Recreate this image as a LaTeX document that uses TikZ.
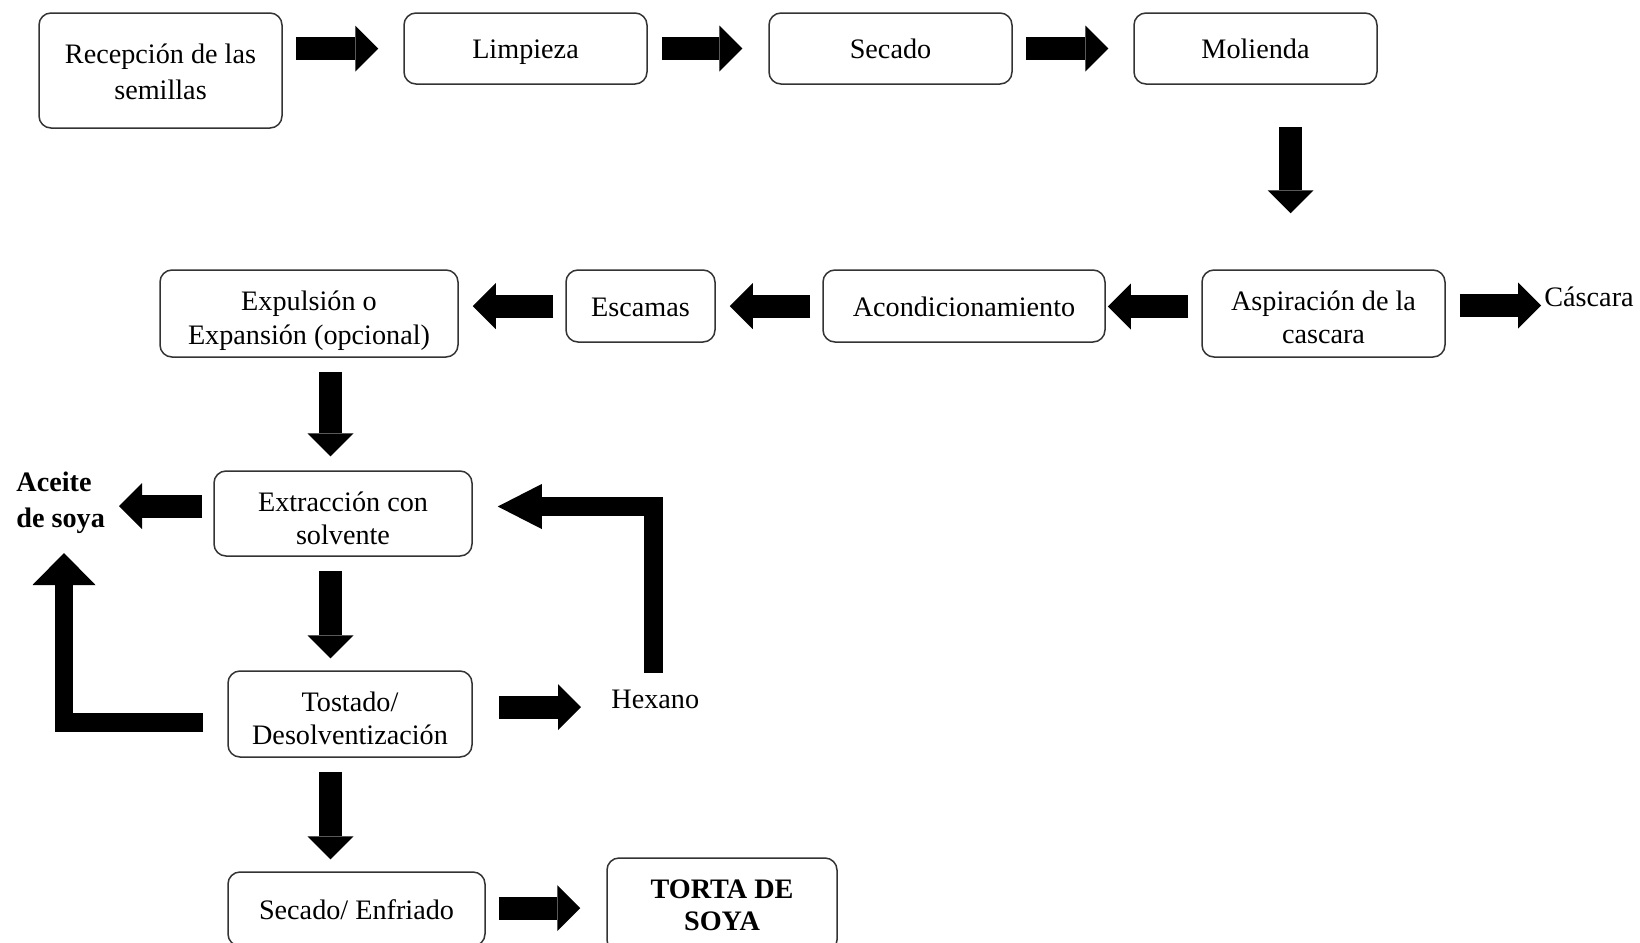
\documentclass[tikz,border=0pt]{standalone}
\usepackage{fontspec}
\setmainfont{Liberation Serif}
\usetikzlibrary{arrows.meta,calc}
\begin{document}
\begin{tikzpicture}[x=0.5pt,y=-0.5pt,
  box/.style={draw=black!80, line width=0.75pt, rounded corners=6pt, align=center, inner sep=0pt, fill=white,
    font=\fontsize{14.1}{16.7}\selectfont},
  one/.style={text height=12pt, text depth=2pt},
  two/.style={text height=#1, text depth=2pt},
  txt/.style={inner sep=0pt, align=left, font=\fontsize{14.1}{17.8}\selectfont},
  blk/.style={line width=11.5pt, -{Triangle[width=23pt,length=11.5pt,line width=0pt]}},
  bentA/.style={line width=9.5pt, line join=miter, -{Triangle[width=22.5pt,length=22pt,line width=0pt]}},
  bentB/.style={line width=9.25pt, line join=miter, -{Triangle[width=31.5pt,length=16pt,line width=0pt]}}]
\useasboundingbox (0,0) rectangle (1640,943);

% boxes
\node[box, two=31pt, minimum width=121.5pt, minimum height=57.5pt, font=\fontsize{14.1}{17.8}\selectfont] (n1) at (160.5,70.5) {Recepción de las\\semillas};
\node[box, one, minimum width=121.5pt, minimum height=35.5pt] (n2) at (525.5,48.5) {Limpieza};
\node[box, one, minimum width=121.5pt, minimum height=35.5pt] (n3) at (890.5,48.5) {Secado};
\node[box, one, minimum width=121.5pt, minimum height=35.5pt] (n4) at (1255.5,48.5) {Molienda};
\node[box, two=32.4pt, minimum width=121.5pt, minimum height=43.5pt] (n5) at (1323.5,313.5) {Aspiración de la\\cascara};
\node[box, one, minimum width=141pt, minimum height=36pt] (n6) at (964,306) {Acondicionamiento};
\node[box, one, minimum width=74.5pt, minimum height=36pt] (n7) at (640.5,306) {Escamas};
\node[box, two=32.6pt, minimum width=149pt, minimum height=43.5pt] (n8) at (309,313.5) {Expulsión o\\Expansión (opcional)};
\node[box, two=33.4pt, minimum width=129pt, minimum height=42.5pt] (n9) at (343,513.5) {Extracción con\\solvente};
\node[box, two=32.7pt, minimum width=122pt, minimum height=43pt] (n10) at (350,714) {Tostado/\\Desolventización};
\node[box, one, minimum width=128.5pt, minimum height=37pt] (n11) at (356.5,909) {Secado/ Enfriado};
\node[box, two=27.9pt, minimum width=115pt, minimum height=47pt, font=\bfseries\fontsize{14.1}{16.2}\selectfont] (n12) at (722,905) {TORTA DE\\SOYA};

% free texts
\node[txt, anchor=base west] (cas) at (1544,306) {Cáscara};
\node[txt, anchor=base west] (hex) at (611,708) {Hexano};
\node[txt, anchor=base west, font=\bfseries\fontsize{14.1}{17.8}\selectfont] (ace) at (16,527.2) {Aceite\\de soya};

% straight block arrows
\draw[blk] ($(n1.east |- n2.west)+(13,0)$) -- ($(n2.west)+(-25,0)$);
\draw[blk] ($(n2.east)+(14,0)$) -- ($(n3.west)+(-26,0)$);
\draw[blk] ($(n3.east)+(13,0)$) -- ($(n4.west)+(-25,0)$);
\draw[blk] ($(n4.south)+(35,42)$) -- ($(n5.north)+(-33,-56)$);
\draw[blk] ($(n5.east)+(14,-8)$) -- ($(cas.base west)+(-3,-0.5)$);
\draw[blk] ($(n5.west)+(-13,-7)$) -- ($(n6.east)+(2,0.5)$);
\draw[blk] ($(n6.west)+(-12,0)$) -- ($(n7.east)+(14,0)$);
\draw[blk] ($(n7.west)+(-12,0)$) -- ($(n8.east)+(14,-7.5)$);
\draw[blk] ($(n8.south)+(21.5,14)$) -- ($(n9.north)+(-12.5,-14)$);
\draw[blk] ($(n9.west)+(-11,-7.5)$) -- ($(ace.base west)+(103,-21.2)$);
\draw[blk] ($(n9.south)+(-12.5,14)$) -- ($(n10.north)+(-19.5,-12)$);
\draw[blk] ($(n10.east)+(26,-7)$) -- ($(hex.base west)+(-30,-1)$);
\draw[blk] ($(n10.south)+(-19.5,14)$) -- ($(n11.north)+(-26,-12)$);
\draw[blk] ($(n11.east)+(13,-1)$) -- ($(n12.west)+(-26,3)$);

% bent block arrows
\draw[bentA] ($(hex.base west)+(42,-35)$) |- ($(n9.east)+(25,-7)$);
\draw[bentB] ($(n10.west)+(-24,8.5)$) -| ($(ace.base west)+(48,25.8)$);
\end{tikzpicture}
\end{document}
